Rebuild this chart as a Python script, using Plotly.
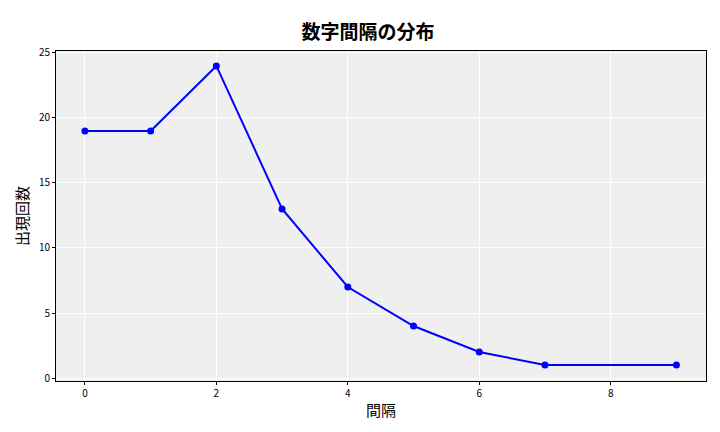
import plotly.graph_objects as go

intervals = [0, 1, 2, 3, 4, 5, 6, 7, 8, 9]
counts = [19, 19, 24, 13, 7, 4, 2, 1, None, 1]
xs = [x for x, c in zip(intervals, counts) if c is not None]
ys = [c for c in counts if c is not None]

font = "Noto Sans CJK JP"
fig = go.Figure(go.Scatter(x=xs, y=ys, mode="lines+markers",
                           line=dict(color="blue", width=2),
                           marker=dict(color="blue", size=7)))
fig.update_layout(
    width=720, height=432, margin=dict(l=48, r=22, t=43, b=59, autoexpand=False),
    paper_bgcolor="white", plot_bgcolor="#efefef",
    font=dict(family=font, color="black", size=10),
    title=dict(text="<b>数字間隔の分布</b>", x=0.5, xanchor="center", y=0.96,
               font=dict(size=19, family=font)),
    showlegend=False,
)
ax = dict(showgrid=True, gridcolor="white", gridwidth=1, zeroline=False,
          showline=True, linecolor="black", mirror=True, ticks="outside",
          ticklen=3, tickcolor="black", automargin=False)
fig.update_xaxes(**ax, range=[-0.44, 9.45], tickvals=[0, 2, 4, 6, 8],
                 title=dict(text="間隔", font=dict(size=15), standoff=6))
fig.update_yaxes(**ax, range=[-0.23, 25.15], tickvals=[0, 5, 10, 15, 20, 25],
                 title=dict(text="出現回数", font=dict(size=15), standoff=6))
fig.write_html("out.html")
